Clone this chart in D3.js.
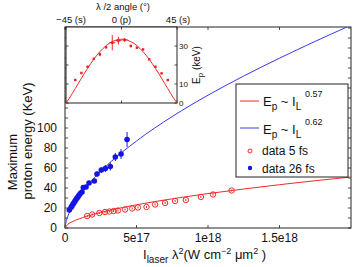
<!DOCTYPE html>
<html><head><meta charset="utf-8">
<script src="https://cdn.jsdelivr.net/npm/d3@7"></script>
<style>
html,body{margin:0;padding:0;background:#fff;}
svg{display:block;font-family:"Liberation Sans",Arial,Helvetica,sans-serif;}
</style></head>
<body><svg id="c" width="354" height="267"></svg>
<script>
// ---- main plot data ----
const xTickVals = [0, 5e17, 1e18, 1.5e18];
const xTickLabels = ["0", "5e17", "1e18", "1.5e18"];
const yTickVals = [0, 20, 40, 60, 80, 100];

// data 26 fs (blue)
const blueI = [0.030e18,0.042e18,0.049e18,0.056e18,0.063e18,0.070e18,0.077e18,0.084e18,0.091e18,0.098e18,0.107e18,0.119e18,0.128e18,0.147e18,0.168e18,0.205e18,0.224e18,0.254e18,0.282e18,0.317e18,0.352e18,0.392e18,0.434e18];
const blueE = [18,20.5,22,24,25.3,27,28.5,30,31.3,32.7,34.5,36,40.5,41,45,47,54,58,59.5,61.5,71,74,88.5];
const blueErr = [1,1,1,1,1,1,1,1,1,1,1,1.5,1.5,1.5,2,2,2.5,3,3.5,4,4,5,7.5];

// data 5 fs (red)
const redI = [0.155e18,0.19e18,0.24e18,0.28e18,0.31e18,0.34e18,0.37e18,0.42e18,0.47e18,0.51e18,0.57e18,0.63e18,0.70e18,0.77e18,0.845e18,0.95e18,1.035e18,1.165e18];
const redE = [12,13.5,15,16,16.5,17,17.5,18.5,19.5,20.5,21,23.5,25,27,28,31,33.5,37.5];
const redErr = [1,1,1,1,1,1,1,1,1,1,1,1,1,1,1,1,1,1];

// fit curves
const fitRedI = [0,0.02e18,0.05e18,0.1e18,0.2e18,0.3e18,0.5e18,0.75e18,1.0e18,1.25e18,1.5e18,1.75e18,2.0e18];
const fitRedE = [0,3.7,6.2,9.2,13.7,17.3,23.2,29.2,34.4,39.0,43.3,47.3,51];
const fitBlueI = [0,0.01e18,0.02e18,0.05e18,0.1e18,0.2e18,0.3e18,0.5e18,0.75e18,1.0e18,1.25e18,1.5e18,1.75e18,2.0e18];
const fitBlueE = [0,7.7,11.9,20.9,32.2,49.4,63.6,87.0,111.5,132.8,152.0,169.8,186.7,202.8];

// ---- inset data ----
const insetTickVals = [-45, 0, 45];
const insetTickLabels = ["\u221245 (s)", "0 (p)", "45 (s)"];
const insetYTicks = [0, 10, 20, 30];
const insetYLabels = ["0", "10", "", "30"];
const angle = [-37.5,-32.5,-27.5,-22.5,-17.5,-12.5,-7.5,-2.5,2.5,7.5,12.5,17.5,22.5,27.5,32.5,37.5];
const angleE = [12.1,15.8,19.1,23.3,25.6,29.3,31.7,32.8,33.2,30.0,29.1,28.2,23.0,19.1,15.6,12.1];
const angleErr = [0.5,0.5,0.5,0.5,1,0.5,4,2,1,0.7,0.5,0.5,0.5,0.5,0.5,0.5];
const angleXErr = [0,0,0,0,0,0,2.5,2.5,2.5,0,0,0,0,0,0,0];
const fitAng = [-45,-42.5,-40,-37.5,-35,-32.5,-30,-27.5,-25,-22.5,-20,-17.5,-15,-12.5,-10,-7.5,-5,-2.5,0,2.5,5,7.5,10,12.5,15,17.5,20,22.5,25,27.5,30,32.5,35,37.5,40,42.5,45];
const fitAngE = [0,2.3,4.9,7.6,10.3,13.0,15.7,18.2,20.7,23.0,25.1,27.0,28.7,30.2,31.4,32.3,33.0,33.46,33.6,33.46,33.0,32.3,31.4,30.2,28.7,27.0,25.1,23.0,20.7,18.2,15.7,13.0,10.3,7.6,4.9,2.3,0];

const svg = d3.select("#c");
const L = 65, R = 351, T = 27, B = 228;
const x = d3.scaleLinear().domain([0, 2e18]).range([L, R]);
const y = d3.scaleLinear().domain([0, 201]).range([B, T]);
const axCol = "#222";

svg.append("defs").append("clipPath").attr("id","clip")
  .append("rect").attr("x",L).attr("y",T).attr("width",R-L).attr("height",B-T);

// frame
svg.append("rect").attr("x",L).attr("y",T).attr("width",R-L).attr("height",B-T)
  .attr("fill","none").attr("stroke",axCol).attr("stroke-width",1);

// ticks
const minorY = d3.range(0, 201, 10);
const tk = svg.append("g").attr("stroke",axCol).attr("stroke-width",0.8);
minorY.forEach(v=>{
  tk.append("line").attr("x1",L).attr("x2",L+3).attr("y1",y(v)).attr("y2",y(v));
  tk.append("line").attr("x1",R).attr("x2",R-3).attr("y1",y(v)).attr("y2",y(v));
});
xTickVals.forEach(v=>{
  tk.append("line").attr("x1",x(v)).attr("x2",x(v)).attr("y1",B).attr("y2",B-3);
  tk.append("line").attr("x1",x(v)).attr("x2",x(v)).attr("y1",T).attr("y2",T+3);
});
// tick labels
svg.append("g").selectAll("text").data(xTickVals).join("text")
  .attr("x",d=>x(d)).attr("y",242).attr("text-anchor","middle")
  .attr("font-size",12).attr("fill","#111").text((d,i)=>xTickLabels[i]);
svg.append("g").selectAll("text").data(yTickVals).join("text")
  .attr("x",57).attr("y",d=>y(d)).attr("dy","0.35em").attr("text-anchor","end")
  .attr("font-size",12).attr("fill","#111").text(d=>d);

// axis labels
svg.append("text").attr("transform","translate(17,162) rotate(-90)").attr("text-anchor","middle")
  .attr("font-size",13).attr("fill","#111").text("Maximum");
svg.append("text").attr("transform","translate(32,141) rotate(-90)").attr("text-anchor","middle")
  .attr("font-size",13).attr("fill","#111").text("proton energy (KeV)");

const xl = svg.append("text").attr("x",143).attr("y",259).attr("font-size",13).attr("fill","#111");
xl.append("tspan").text("I");
xl.append("tspan").attr("dy",4).attr("font-size",10).text("laser");
xl.append("tspan").attr("dy",-4).text(" \u03bb");
xl.append("tspan").attr("dy",-5).attr("font-size",9).text("2");
xl.append("tspan").attr("dy",5).text("(W cm");
xl.append("tspan").attr("dy",-5).attr("font-size",9).text("\u22122");
xl.append("tspan").attr("dy",5).text(" \u03bcm");
xl.append("tspan").attr("dy",-5).attr("font-size",9).text("2");
xl.append("tspan").attr("dy",5).text(" )");

// fit lines
const line = d3.line().x(d=>x(d[0])).y(d=>y(d[1])).curve(d3.curveMonotoneX);
const gp = svg.append("g").attr("clip-path","url(#clip)");
gp.append("path").datum(fitBlueI.map((v,i)=>[v,fitBlueE[i]])).attr("d",line)
  .attr("fill","none").attr("stroke","#3a3ae8").attr("stroke-width",1);
gp.append("path").datum(fitRedI.map((v,i)=>[v,fitRedE[i]])).attr("d",line)
  .attr("fill","none").attr("stroke","#ee2a2a").attr("stroke-width",1);

// red data
const rd = redI.map((v,i)=>({x:v,y:redE[i],e:redErr[i]}));
gp.append("g").selectAll("line").data(rd).join("line")
  .attr("x1",d=>x(d.x)).attr("x2",d=>x(d.x)).attr("y1",d=>y(d.y-d.e)).attr("y2",d=>y(d.y+d.e))
  .attr("stroke","#ee2a2a").attr("stroke-width",1);
gp.append("g").selectAll("circle").data(rd).join("circle")
  .attr("cx",d=>x(d.x)).attr("cy",d=>y(d.y)).attr("r",2.7)
  .attr("fill","none").attr("stroke","#ee2a2a").attr("stroke-width",1);

// blue data
const bd = blueI.map((v,i)=>({x:v,y:blueE[i],e:blueErr[i]}));
gp.append("g").selectAll("line").data(bd).join("line")
  .attr("x1",d=>x(d.x)).attr("x2",d=>x(d.x)).attr("y1",d=>y(d.y-d.e)).attr("y2",d=>y(d.y+d.e))
  .attr("stroke","#1a1ae0").attr("stroke-width",1);
gp.append("g").selectAll("circle").data(bd).join("circle")
  .attr("cx",d=>x(d.x)).attr("cy",d=>y(d.y)).attr("r",2.8)
  .attr("fill","#1414e6");

// ---- inset ----
const iL = 66, iR = 177, iT = 27, iB = 103;
const ix = d3.scaleLinear().domain([-45,45]).range([iL,iR]);
const iy = d3.scaleLinear().domain([0,40]).range([iB,iT]);
svg.append("rect").attr("x",iL).attr("y",iT).attr("width",iR-iL).attr("height",iB-iT)
  .attr("fill","#fff").attr("stroke",axCol).attr("stroke-width",1);
const itk = svg.append("g").attr("stroke",axCol).attr("stroke-width",0.8);
insetYTicks.forEach(v=>{
  itk.append("line").attr("x1",iL).attr("x2",iL+2.5).attr("y1",iy(v)).attr("y2",iy(v));
  itk.append("line").attr("x1",iR).attr("x2",iR-2.5).attr("y1",iy(v)).attr("y2",iy(v));
});
insetTickVals.forEach(v=>{
  itk.append("line").attr("x1",ix(v)).attr("x2",ix(v)).attr("y1",iB).attr("y2",iB-2.5);
  itk.append("line").attr("x1",ix(v)).attr("x2",ix(v)).attr("y1",iT).attr("y2",iT+2.5);
});
const insetLabelShift = [5, 0, 1];
svg.append("g").selectAll("text").data(insetTickVals).join("text")
  .attr("x",(d,i)=>ix(d)+insetLabelShift[i]).attr("y",22.5).attr("text-anchor","middle")
  .attr("font-size",9.5).attr("fill","#111").text((d,i)=>insetTickLabels[i]);
svg.append("text").attr("x",123).attr("y",9.5).attr("text-anchor","middle")
  .attr("font-size",9.5).attr("fill","#111").text("\u03bb /2 angle (\u00b0)");
svg.append("g").selectAll("text").data(insetYTicks).join("text")
  .attr("x",179).attr("y",d=>iy(d)).attr("dy","0.35em")
  .attr("font-size",8).attr("fill","#111").text((d,i)=>insetYLabels[i]);
const el = svg.append("text").attr("transform","translate(200,84) rotate(-90)")
  .attr("font-size",10).attr("fill","#111");
el.append("tspan").text("E");
el.append("tspan").attr("dy",3).attr("font-size",8).text("p");
el.append("tspan").attr("dy",-3).text(" (keV)");

const iline = d3.line().x(d=>ix(d[0])).y(d=>iy(d[1])).curve(d3.curveMonotoneX);
svg.append("path").datum(fitAng.map((v,i)=>[v,fitAngE[i]])).attr("d",iline)
  .attr("fill","none").attr("stroke","#ee2a2a").attr("stroke-width",1);
const ad = angle.map((v,i)=>({x:v,y:angleE[i],e:angleErr[i],xe:angleXErr[i]}));
const ig = svg.append("g").attr("stroke","#ee2a2a").attr("stroke-width",1);
ad.forEach(d=>{
  if (d.e>0.6) ig.append("line").attr("x1",ix(d.x)).attr("x2",ix(d.x)).attr("y1",iy(d.y-d.e)).attr("y2",iy(d.y+d.e));
  if (d.xe>0) ig.append("line").attr("x1",ix(d.x-d.xe)).attr("x2",ix(d.x+d.xe)).attr("y1",iy(d.y)).attr("y2",iy(d.y));
});
svg.append("g").selectAll("rect").data(ad).join("rect")
  .attr("x",d=>ix(d.x)-1.2).attr("y",d=>iy(d.y)-1.2).attr("width",2.4).attr("height",2.4)
  .attr("fill","#e61e1e");

// ---- legend ----
const lg = svg.append("g");
lg.append("rect").attr("x",236).attr("y",84).attr("width",112).attr("height",93)
  .attr("fill","#fff").attr("stroke",axCol).attr("stroke-width",1);
lg.append("line").attr("x1",240).attr("x2",259).attr("y1",101).attr("y2",101).attr("stroke","#ee2a2a");
lg.append("line").attr("x1",240).attr("x2",259).attr("y1",128).attr("y2",128).attr("stroke","#3a3ae8");
[[106,"0.57",94],[133.5,"0.62",122]].forEach(r=>{
  const t = lg.append("text").attr("x",263).attr("y",r[0]).attr("font-size",13).attr("fill","#111");
  t.append("tspan").text("E");
  t.append("tspan").attr("dy",4).attr("font-size",10).text("p");
  t.append("tspan").attr("dy",-4).text(" ~ I");
  t.append("tspan").attr("dy",4).attr("font-size",10).text("L");
  lg.append("text").attr("x",305).attr("y",r[2]).attr("dy","0.35em").attr("font-size",9).attr("fill","#111").text(r[1]);
});
lg.append("circle").attr("cx",250).attr("cy",151).attr("r",2).attr("fill","none").attr("stroke","#ee2a2a");
lg.append("circle").attr("cx",250).attr("cy",168).attr("r",2.2).attr("fill","#1414e6");
lg.append("text").attr("x",262).attr("y",155).attr("font-size",12).attr("fill","#111").text("data 5 fs");
lg.append("text").attr("x",262).attr("y",172.5).attr("font-size",12).attr("fill","#111").text("data 26 fs");
</script></body></html>
